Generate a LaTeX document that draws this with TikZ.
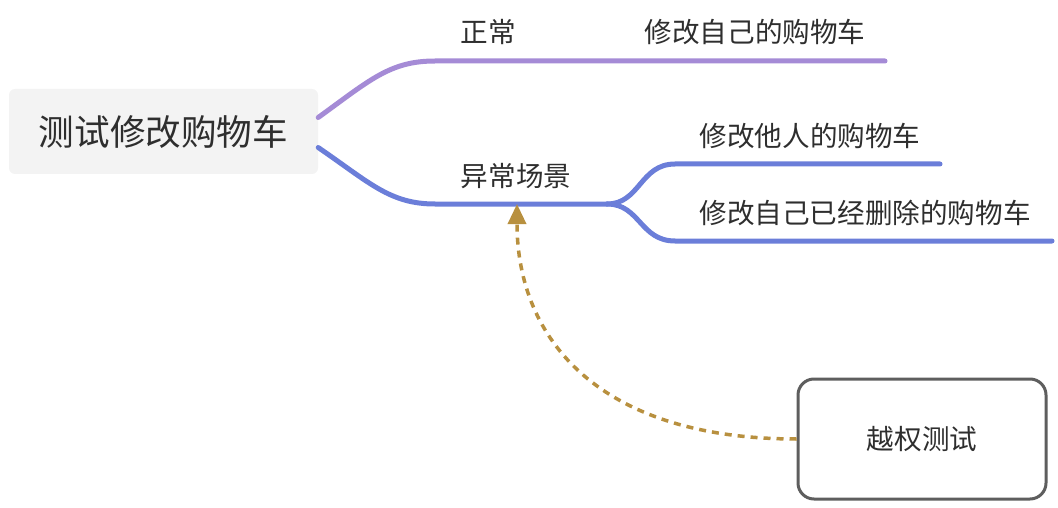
\documentclass[tikz,border=0pt]{standalone}
\usepackage{fontspec}
\setmainfont{Noto Sans CJK SC}
\usetikzlibrary{arrows.meta}
\definecolor{mmPurple}{HTML}{A58BD6}
\definecolor{mmBlue}{HTML}{6B7ED9}
\definecolor{mmGold}{HTML}{B8903F}
\definecolor{mmGrey}{HTML}{5E5E5E}
\definecolor{mmRootFill}{HTML}{F3F3F3}
\definecolor{mmText}{HTML}{2E2E2E}
\newcommand{\mmLabel}{\fontsize{27.6}{32}\selectfont}

\begin{document}
\begin{tikzpicture}[x=1pt,y=-1pt,
  topicbox/.style={inner sep=0pt, text=mmText},
  rootbox/.style={topicbox, fill=mmRootFill, rounded corners=6pt, minimum width=309pt, minimum height=85pt, font=\fontsize{35.6}{40}\selectfont},
  notebox/.style={topicbox, draw=mmGrey, line width=3pt, rounded corners=16pt, minimum width=248pt, minimum height=120pt, font=\mmLabel},
  leaf/.style={topicbox, font=\mmLabel},
  branch/.style={line width=5pt, line cap=round}]
\useasboundingbox (0,0) rectangle (1058,508);
\node[rootbox] (root) at (163.5,131.5) {测试修改购物车};
\node[leaf] (normal) at (488,32) {正常};
\node[leaf] (own) at (755,32) {修改自己的购物车};
\node[leaf] (abnormal) at (516,176) {异常场景};
\node[leaf] (other) at (810,136) {修改他人的购物车};
\node[leaf] (deleted) at (865,213) {修改自己已经删除的购物车};
\node[notebox] (escalate) at (922,439) {越权测试};
\coordinate (n0) at (435,61);
\coordinate (n1) at (885,61);
\coordinate (a0) at (435,204);
\coordinate (a1) at (607,204);
\coordinate (o0) at (675,164);
\coordinate (o1) at (940,164);
\coordinate (d0) at (675,241);
\coordinate (d1) at (1052,241);
\coordinate (tip) at (517,204);
% branches
\draw[branch, mmPurple] ([yshift=14pt]root.east) .. controls (370,80) and (390,61) .. (n0) -- (n1);
\draw[branch, mmBlue] ([yshift=-16pt]root.east) .. controls (370,183) and (390,204) .. (a0) -- (a1);
\draw[branch, mmBlue] (a1) .. controls (640,204) and (640,164) .. (o0) -- (o1);
\draw[branch, mmBlue] (a1) .. controls (640,204) and (640,241) .. (d0) -- (d1);
% relation
\draw[mmGold, line width=3.5pt, dash pattern=on 7pt off 6pt, -{Triangle[width=18pt,length=20pt]}]
  (escalate.west) .. controls (600,439) and (517,340) .. (tip);
\end{tikzpicture}
\end{document}
